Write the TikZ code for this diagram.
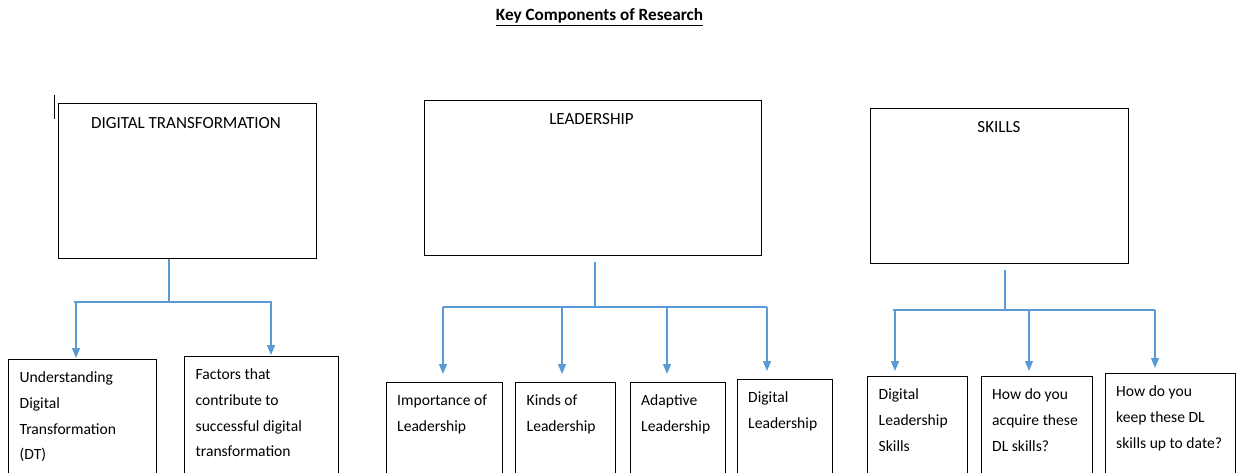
\documentclass[tikz,border=0pt]{standalone}
\usepackage{fontspec}
\setmainfont{Carlito}
\usepackage{tikz}
\usetikzlibrary{arrows.meta,positioning}

\definecolor{linkblue}{RGB}{91,155,213}

\begin{document}
\begin{tikzpicture}[x=1pt,y=-1pt,>={Triangle[width=8pt,length=10pt]},
				big box/.style={draw,line width=1.3pt,anchor=north west,minimum height=155pt},
				big title/.style={font=\fontsize{17}{20}\selectfont},
				sub box/.style={draw,line width=1.3pt,anchor=north west,minimum height=140pt},
				sub text/.style={inner sep=0pt,align=left,font=\fontsize{15.6}{25.8}\selectfont},
				link/.style={draw=linkblue,line width=1.2pt},
				link arrow/.style={link,->}]
				
				\path[use as bounding box,clip] (0,0) rectangle (1242,472);
				
				\node[font=\bfseries\fontsize{17.2}{20}\selectfont] (title) at (599.5,17) {\underline{Key Components of Research}};
				\draw[line width=0.6pt] (54,95) -- (54,119);
				
				% main boxes
				\node[big box,minimum width=258pt] (dt) at (58,103) {};
				\node[big box,minimum width=337pt,minimum height=155pt] (ld) at (424,100) {};
				\node[big box,minimum width=258pt] (sk) at (870,108) {};
				\node[big title] (dtt) at (186,123) {DIGITAL TRANSFORMATION};
				\node[big title] (ldt) at (591.5,119) {LEADERSHIP};
				\node[big title] (skt) at (999,127) {SKILLS};
				
				% sub boxes
				\node[sub box,minimum width=148pt] (udt) at (8,359) {};
				\node[sub box,minimum width=154pt] (fac) at (184,356) {};
				\node[sub box,minimum width=116pt] (imp) at (386,382) {};
				\node[sub box,minimum width=100pt] (kin) at (515,382) {};
				\node[sub box,minimum width=95pt] (ada) at (630,382) {};
				\node[sub box,minimum width=95pt] (dig) at (737,379) {};
				\node[sub box,minimum width=100pt] (dls) at (867,376) {};
				\node[sub box,minimum width=111pt] (acq) at (981,376) {};
				\node[sub box,minimum width=130pt] (kee) at (1105,373) {};
				
				\node[sub text,below right=12.5pt and 11.5pt of udt.north west] (udtt) {Understanding\\Digital\\Transformation\\(DT)};
				\node[sub text,below right=12.5pt and 11.5pt of fac.north west] (fact) {Factors that\\contribute to\\successful digital\\transformation};
				\node[sub text,below right=12.5pt and 11pt of imp.north west] (impt) {Importance of\\Leadership};
				\node[sub text,below right=12.5pt and 11.5pt of kin.north west] (kint) {Kinds of\\Leadership};
				\node[sub text,below right=12.5pt and 11pt of ada.north west] (adat) {Adaptive\\Leadership};
				\node[sub text,below right=12.5pt and 11pt of dig.north west] (digt) {Digital\\Leadership};
				\node[sub text,below right=12.5pt and 11.5pt of dls.north west] (dlst) {Digital\\Leadership\\Skills};
				\node[sub text,below right=12.5pt and 11pt of acq.north west] (acqt) {How do you\\acquire these\\DL skills?};
				\node[sub text,below right=12.5pt and 11pt of kee.north west] (keet) {How do you\\keep these DL\\skills up to date?};
				
				% connectors
				\coordinate (dtj) at (169,302);
				\coordinate (dtl) at (74,302);
				\coordinate (dtr) at (272,302);
				\draw[link] (dt.south -| dtj) -- (dtj);
				\draw[link] (dtl) -- (dtr);
				\foreach \b/\x in {udt/76,fac/271}
					\draw[link arrow,shorten >=1pt] (\x,302) -- (\x,302 |- \b.north);
				
				\coordinate (ldj) at (595,307);
				\coordinate (ldl) at (443,307);
				\coordinate (ldr) at (767,307);
				\draw[link,shorten <=6pt] (ld.south -| ldj) -- (ldj);
				\draw[link] (ldl) -- (ldr);
				\foreach \b/\x in {imp/443,kin/562,ada/667,dig/767}
					\draw[link arrow,shorten >=8pt] (\x,307) -- (\x,307 |- \b.north);
				
				\coordinate (skj) at (1005,310);
				\coordinate (skl) at (893,310);
				\coordinate (skr) at (1155,310);
				\draw[link,shorten <=6pt] (sk.south -| skj) -- (skj);
				\draw[link] (skl) -- (skr);
				\foreach \b/\x in {dls/895,acq/1029,kee/1155}
					\draw[link arrow,shorten >=5pt] (\x,310) -- (\x,310 |- \b.north);
				
\end{tikzpicture}
\end{document}
